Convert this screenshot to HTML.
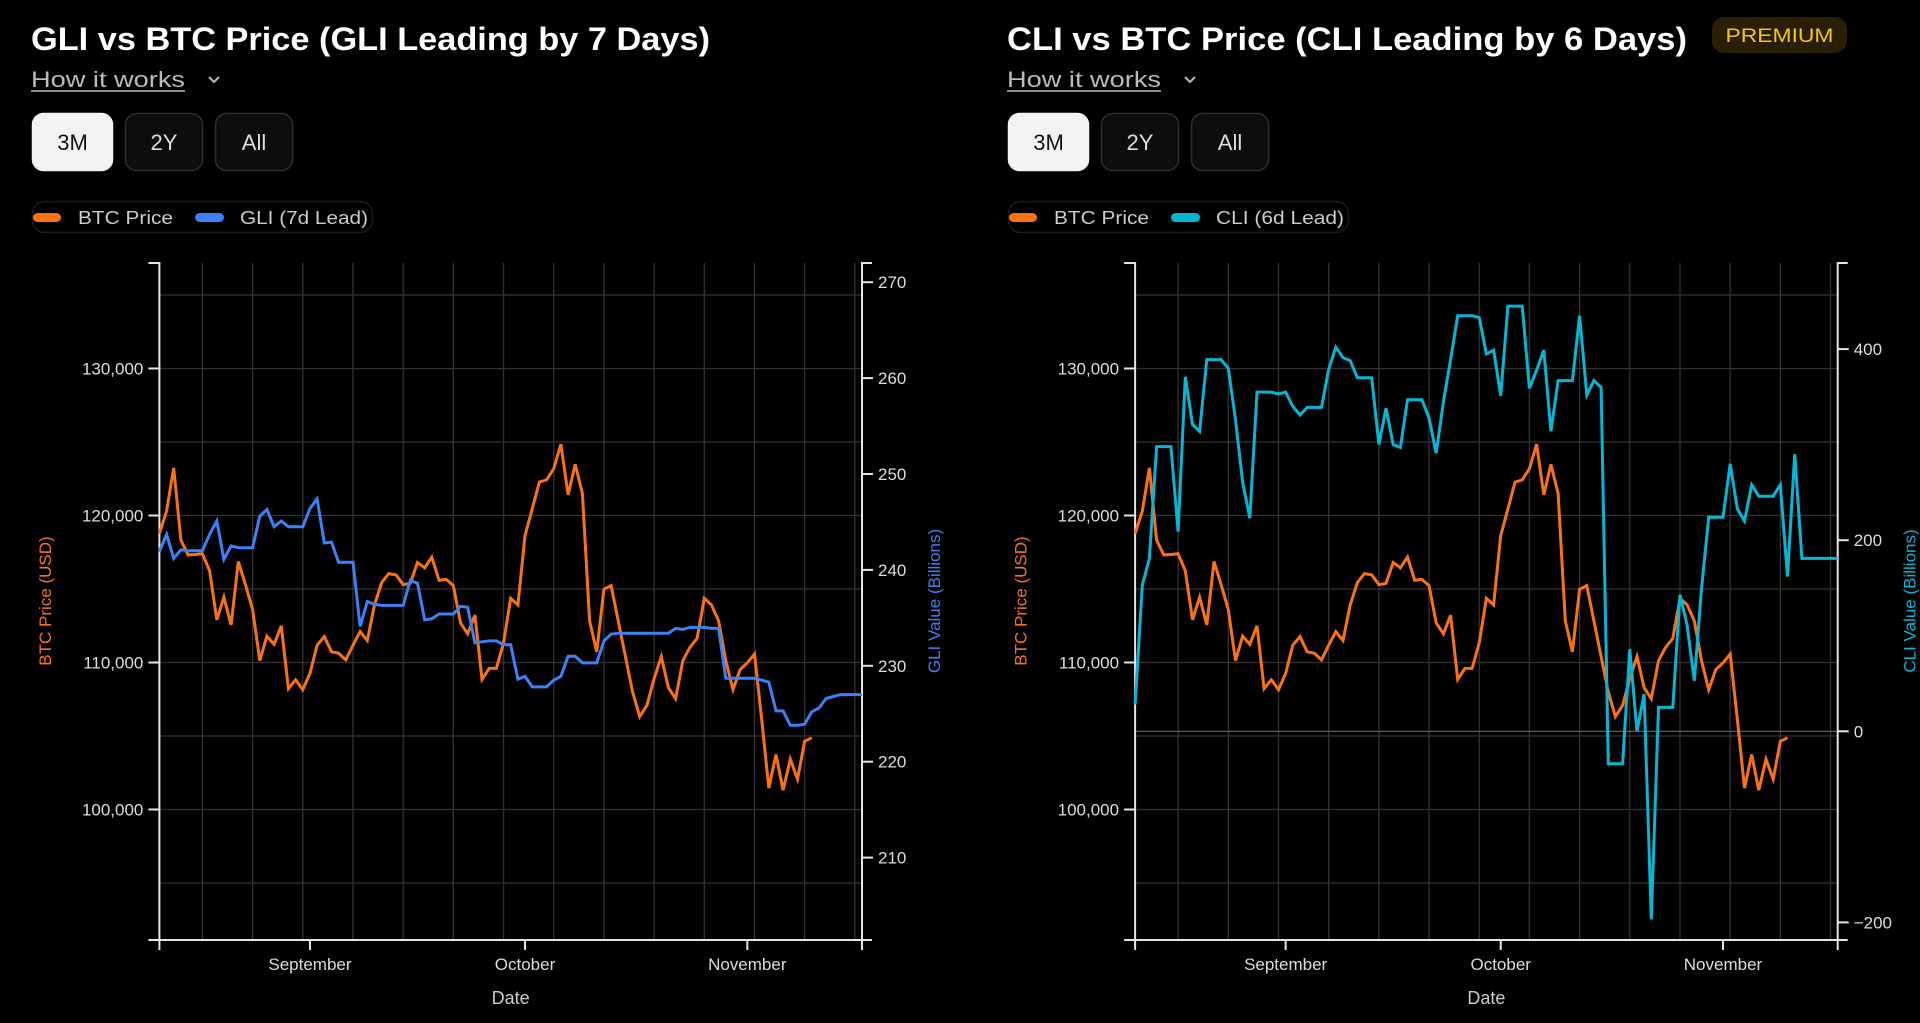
<!DOCTYPE html>
<html><head><meta charset="utf-8"><style>
html,body{margin:0;padding:0;background:#000;}
svg{display:block;font-family:"Liberation Sans",sans-serif;}
</style></head><body>
<svg id="root" width="1920" height="1023" viewBox="0 0 1920 1023" xmlns="http://www.w3.org/2000/svg"></svg>
<script>
// ---- data (daily, starting Aug 11) ----
const monthLabels = ["September","October","November"];
const monthDays = [21, 51, 82];
const btcPrice = [118776,120300,123240,118320,117320,117350,117400,116250,112900,114440,112560,116870,115300,113600,110120,111790,111240,112500,108220,108820,108150,109270,111180,111760,110730,110640,110180,111180,112100,111490,113920,115440,116050,115960,115290,115380,116800,116440,117170,115590,115650,115230,112700,111950,113220,108850,109600,109600,111330,114370,113920,118630,120450,122270,122420,123180,124850,121410,123480,121500,112840,110730,114980,115230,112840,110410,107990,106320,107080,108900,110410,108290,107530,110120,111030,111640,114370,113920,112840,110120,108150,109520,109970,110580,106170,101460,103740,101310,103430,102060,104640,104880];
const gliValues = [241.9,243.7,241.2,242.1,242.0,242.0,242.0,243.7,245.1,241.1,242.5,242.3,242.3,242.3,245.6,246.3,244.5,245.1,244.5,244.5,244.5,246.4,247.4,242.8,242.9,240.8,240.8,240.8,234.1,236.7,236.4,236.3,236.3,236.3,236.3,238.9,238.6,234.8,234.9,235.4,235.4,235.4,236.2,236.1,232.4,232.5,232.6,232.6,232.2,232.2,228.6,228.9,227.8,227.8,227.8,228.5,228.9,231.0,231.0,230.3,230.3,230.3,232.6,233.3,233.4,233.4,233.4,233.4,233.4,233.4,233.4,233.4,233.9,233.8,234.0,234.0,234.0,233.9,233.9,228.7,228.7,228.7,228.7,228.7,228.5,228.3,225.3,225.3,223.8,223.8,223.9,225.2,225.6,226.6,226.8,227.0,227.0,227.0,227.0];
const cliValues = [28,153,181,298,298,298,209,371,321,314,389,389,389,380,326,261,223,355,355,355,353,355,340,331,339,339,339,379,402,391,388,370,370,370,300,338,300,297,347,347,347,328,291,345,389,435,435,435,433,395,399,351,445,445,445,359,378,399,314,367,367,367,435,352,367,360,-34,-34,-34,86,0,39,-197,25,25,25,143,111,53,149,224,224,224,280,233,220,258,246,246,246,258,162,290,181,181,181,181,181,181];
const btcTicks = [100000,110000,120000,130000];
const btcGrid = [95000,100000,105000,110000,115000,120000,125000,130000,135000];
const gliTicks = [210,220,230,240,250,260,270];
const cliTicks = [-200,0,200,400];

const NS="http://www.w3.org/2000/svg";
const root=document.getElementById('root');
function mk(tag,attrs,parent,text){const e=document.createElementNS(NS,tag);for(const k in attrs)e.setAttribute(k,attrs[k]);if(text!==undefined)e.textContent=text;(parent||root).appendChild(e);return e;}

const TOP=263,BOT=940,PW=702.6,NDAYS=98;
function xS(ox,d){return ox+159.4+d*PW/NDAYS;}
function yB(v){return 368.5+(130000-v)*0.0147;}
function yG(v){return 282.2+(270-v)*9.59;}
function yC(v){return 731.3-v*0.9555;}
function fmt(v){return v.toLocaleString('en-US');}

function header(ox,title,titleLen,legLabel,legColor,legLen,premium){
  const g=mk('g',{});
  
  
  const t=mk('text',{x:ox+31,y:50,fill:'#fff','font-size':32,'font-weight':600,textLength:titleLen,lengthAdjust:'spacingAndGlyphs'},g,title);
  
  
  if(premium){
    const pb=mk('g',{},g);
    
    
    mk('rect',{x:ox+736,y:17,width:135,height:36,rx:12,fill:'#2a1f04'},pb);
    mk('text',{x:ox+803.5,y:42,fill:'#f5c518','font-size':19,'text-anchor':'middle',textLength:108,lengthAdjust:'spacingAndGlyphs'},pb,'PREMIUM');
  }
  const hw=mk('g',{},g);
  
  
  mk('text',{x:ox+31,y:87,fill:'#bbb','font-size':22,textLength:154,lengthAdjust:'spacingAndGlyphs'},hw,'How it works');
  mk('line',{x1:ox+31,y1:91,x2:ox+185,y2:91,stroke:'#bbb','stroke-width':1.5},hw);
  mk('path',{d:`M${ox+209},${77} l5,5 l5,-5`,stroke:'#bbb','stroke-width':2,fill:'none'},hw);
  const btns=[["3M",32,81,true],["2Y",125,78,false],["All",215,78,false]];
  btns.forEach(b=>{
    const bg=mk('g',{},g);
    
    
    mk('rect',{x:ox+b[1]+0.5,y:113.5,width:b[2]-1,height:57,rx:11,fill:b[3]?'#f2f2f2':'#0d0d0d',stroke:b[3]?'#f2f2f2':'#2e2e2e','stroke-width':1.5},bg);
    mk('text',{x:ox+b[1]+b[2]/2,y:150,fill:b[3]?'#111':'#ddd','font-size':22,'text-anchor':'middle'},bg,b[0]);
  });
  const lg=mk('g',{},g);
  
  
  mk('rect',{x:ox+32.5,y:201.5,width:legLen,height:31,rx:12,fill:'none',stroke:'#1c1c1c','stroke-width':1.5},lg);
  const e1=mk('g',{},lg);
  
  
  mk('rect',{x:ox+33,y:213,width:28,height:9,rx:4.5,fill:'#f97316'},e1);
  mk('text',{x:ox+78,y:224,fill:'#ccc','font-size':18,textLength:95,lengthAdjust:'spacingAndGlyphs'},e1,'BTC Price');
  const e2=mk('g',{},lg);
  
  
  mk('rect',{x:ox+195,y:213,width:29,height:9,rx:4.5,fill:legColor},e2);
  mk('text',{x:ox+240,y:224,fill:'#ccc','font-size':18,textLength:legLen-212,lengthAdjust:'spacingAndGlyphs'},e2,legLabel);
}

function chart(ox,rVals,rScale,rTicks,rColor,rTitle,extraGrid){
  const g=mk('g',{});
  
  
  const L=xS(ox,0),R=xS(ox,NDAYS);
  const grid=mk('g',{stroke:'#333','stroke-width':1.3},g);
  
  
  for(let d=6;d<NDAYS;d+=7){mk('line',{x1:xS(ox,d),x2:xS(ox,d),y1:TOP,y2:BOT},grid);}
  btcGrid.forEach(v=>mk('line',{x1:L,x2:R,y1:yB(v),y2:yB(v)},grid));
  extraGrid.forEach(v=>mk('line',{x1:L,x2:R,y1:rScale(v),y2:rScale(v),stroke:'#555'},grid));
  const ax=mk('g',{stroke:'#e5e5e5','stroke-width':2,fill:'none'},g);
  
  
  mk('path',{d:`M${L-11},${TOP}H${L}V${BOT}H${L-11}`},ax);
  mk('path',{d:`M${R+10},${TOP}H${R}V${BOT}H${R+10}`},ax);
  mk('path',{d:`M${L},${BOT+10}V${BOT}H${R}V${BOT+10}`},ax);
  btcTicks.forEach(v=>{
    const y=yB(v);
    mk('line',{x1:L-11,x2:L,y1:y,y2:y,stroke:'#e5e5e5','stroke-width':2},g);
    const t=mk('text',{x:L-16,y:y+6,fill:'#ddd','font-size':17,'text-anchor':'end'},g,fmt(v));
    
    
  });
  rTicks.forEach(v=>{
    const y=rScale(v);
    mk('line',{x1:R,x2:R+11,y1:y,y2:y,stroke:'#e5e5e5','stroke-width':2},g);
    const t=mk('text',{x:R+16,y:y+6,fill:'#ddd','font-size':17},g,v<0?'\u2212'+Math.abs(v):String(v));
    
    
  });
  monthDays.forEach((d,i)=>{
    const x=xS(ox,d);
    mk('line',{x1:x,x2:x,y1:BOT,y2:BOT+10,stroke:'#e5e5e5','stroke-width':2},g);
    const t=mk('text',{x:x,y:970,fill:'#ddd','font-size':17,'text-anchor':'middle'},g,monthLabels[i]);
    
    
  });
  const xt=mk('text',{x:(L+R)/2,y:1004,fill:'#ccc','font-size':18,'text-anchor':'middle'},g,'Date');
  
  
  const yl=mk('text',{x:0,y:0,fill:'#f97316','font-size':17,'text-anchor':'middle',transform:`translate(${ox+51},${601}) rotate(-90)`},g,'BTC Price (USD)');
  
  
  const yr=mk('text',{x:0,y:0,fill:rColor,'font-size':17,'text-anchor':'middle',transform:`translate(${R+78},${601}) rotate(-90)`},g,rTitle);
  
  
  const p1=mk('path',{d:btcPrice.map((v,i)=>(i?'L':'M')+xS(ox,i).toFixed(1)+','+yB(v).toFixed(1)).join(''),stroke:'#f97316','stroke-width':3,fill:'none','stroke-linejoin':'miter'},g);
  
  
  const p2=mk('path',{d:rVals.map((v,i)=>(i?'L':'M')+xS(ox,i).toFixed(1)+','+rScale(v).toFixed(1)).join(''),stroke:rColor,'stroke-width':3,fill:'none'},g);
  
  
}

header(0,'GLI vs BTC Price (GLI Leading by 7 Days)',679,'GLI (7d Lead)','#3b82f6',340,false);
header(976,'CLI vs BTC Price (CLI Leading by 6 Days)',680,'CLI (6d Lead)','#06b6d4',340,true);
chart(0,gliValues,yG,gliTicks,'#3b82f6','GLI Value (Billions)',[]);
chart(975.7,cliValues,yC,cliTicks,'#06b6d4','CLI Value (Billions)',[0]);
</script>
</body></html>
